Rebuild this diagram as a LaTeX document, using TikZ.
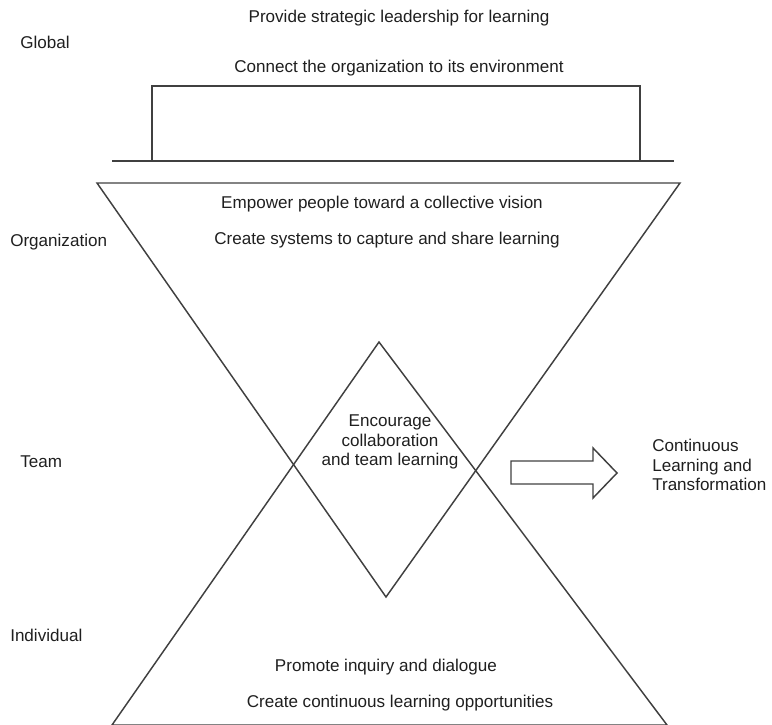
\documentclass[tikz,border=0pt]{standalone}
\usepackage{fontspec}
\setmainfont{Liberation Sans}
\begin{document}
\begin{tikzpicture}[x=0.75pt, y=-0.75pt,
	edge/.style={draw=black!75, line width=1.1pt, line join=miter},
	lbl/.style={inner sep=0pt, text=black!88, font=\fontsize{12.8}{14.6}\selectfont},
	side/.style={lbl, anchor=west}]
	\useasboundingbox (0,0) rectangle (772,725);

	% levels
	\node[side] (glob) at (20,42) {Global};
	\node[side] (org) at (10,242) {Organization};
	\node[side] (team) at (20,462) {Team};
	\node[side] (ind) at (10,635) {Individual};

	% corner points
	\coordinate (g1) at (112,161);
	\coordinate (g2) at (674,161);
	\coordinate (b1) at (152,161);
	\coordinate (b2) at (152,86);
	\coordinate (b3) at (640,86);
	\coordinate (b4) at (640,161);
	\coordinate (o1) at (97,183);
	\coordinate (o2) at (680,183);
	\coordinate (o3) at (386,597);
	\coordinate (i1) at (112,725);
	\coordinate (i2) at (667,725);
	\coordinate (i3) at (379,342);

	\draw[edge] (g1) -- (g2);
	\draw[edge] (b1) -- (b2) -- (b3) -- (b4);
	\draw[edge] (o1) -- (o2) -- (o3) -- cycle;
	\draw[edge] (i1) -- (i2) -- (i3) -- cycle;

	% texts
	\node[lbl] (t1) at (399,18) {Provide strategic leadership for learning};
	\node[lbl] (t2) at (399,68) {Connect the organization to its environment};
	\node[lbl] (t3) at (382,204) {Empower people toward a collective vision};
	\node[lbl] (t4) at (387,240) {Create systems to capture and share learning};
	\node[lbl, align=center] (t5) at (390,442) {Encourage\\collaboration\\and team learning};
	\node[lbl] (t6) at (386,667) {Promote inquiry and dialogue};
	\node[lbl] (t7) at (400,703) {Create continuous learning opportunities};

	% outcome
	\draw[edge] (511,461) -- (593,461) -- (593,448) -- (617,473) -- (593,498) -- (593,484) -- (511,484) -- cycle;
	\node[side, align=left] (out) at (652,465) {Continuous\\Learning and\\Transformation};
\end{tikzpicture}
\end{document}
